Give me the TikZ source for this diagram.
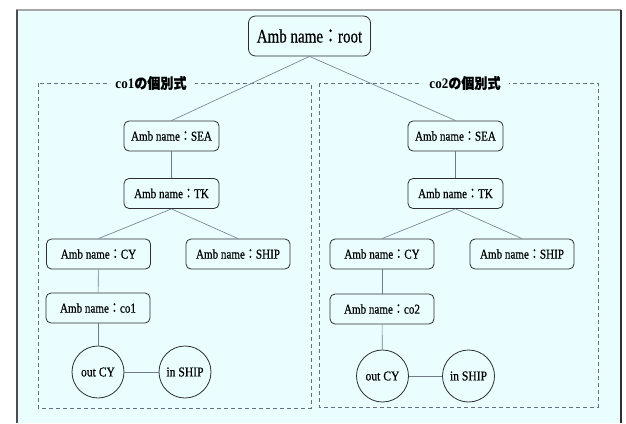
\documentclass[tikz,border=0pt]{standalone}
\usepackage{graphicx}
\usepackage{fontspec}
\setmainfont{Liberation Serif}
\newfontfamily\nf{Liberation Serif}[FakeBold=0.6]
\newfontfamily\cjk{Noto Sans CJK JP}
\newfontfamily\cjkb{Noto Sans CJK JP}[FakeBold=0.6]
\newcommand{\nt}[2][0.82]{\scalebox{#1}[1]{#2}}
\newcommand{\amb}[1]{Amb name{\cjkb ：}#1}
\definecolor{bgc}{RGB}{234,254,255}
\definecolor{edgec}{RGB}{112,122,140}
\definecolor{dashc}{RGB}{100,112,130}
\definecolor{nodec}{RGB}{45,45,50}
\begin{document}
\begin{tikzpicture}[x=1pt,y=-1pt,
  box/.style={draw=nodec, rounded corners=5pt, fill=bgc, line width=0.8pt, inner sep=0pt, minimum height=30, font=\nf\fontsize{13.5}{15}\selectfont},
  rootbox/.style={box, minimum width=122, minimum height=40, rounded corners=7pt, font=\nf\fontsize{19}{21}\selectfont},
  circ/.style={circle, draw=nodec, fill=bgc, line width=0.8pt, minimum size=52, inner sep=0pt, font=\nf\fontsize{13.5}{15}\selectfont},
  edge/.style={draw=edgec, line width=0.6pt},
  dashbox/.style={draw=dashc, line width=0.8pt, dash pattern=on 4pt off 3pt},
  lab/.style={fill=bgc, inner xsep=8pt, inner ysep=3pt, font=\fontsize{14.5}{16}\selectfont\bfseries}]
\useasboundingbox (0,0) rectangle (626,423);
\fill[white] (0,0) rectangle (626,423);
\fill[bgc] (17,10) rectangle (621,423);
\draw[gray!70, line width=1.2pt] (16,10) -- (621,10);
\draw[nodec!85, line width=1.8pt] (17,10) -- (17,423);
\draw[nodec, line width=1.2pt] (621,10) -- (621,423);
% dashed groups
\draw[dashbox] (38,83) rectangle (311,408);
\draw[dashbox] (319,83) rectangle (598,407);
\node[lab] (lab1) at (151,83) {\nt[0.9]{co1{\cjkb の個別式}}};
\node[lab] (lab2) at (465,83) {\nt[0.9]{co2{\cjkb の個別式}}};
% nodes
\node[rootbox] (root) at (309.5,36) {\nt[0.79]{\amb{root}}};
\node[box, minimum width=95] (sea1) at (171.5,136) {\nt{\amb{SEA}}};
\node[box, minimum width=95] (tk1) at (171.5,193.5) {\nt{\amb{TK}}};
\node[box, minimum width=104] (cy1) at (98.5,254) {\nt{\amb{CY}}};
\node[box, minimum width=104] (ship1) at (238,254) {\nt{\amb{SHIP}}};
\node[box, minimum width=104] (co1) at (98,308) {\nt{\amb{co1}}};
\node[circ] (out1) at (98,372) {\nt[0.86]{out CY}};
\node[circ] (in1) at (185,372) {\nt[0.86]{in SHIP}};
\node[box, minimum width=95] (sea2) at (455.5,136) {\nt{\amb{SEA}}};
\node[box, minimum width=95] (tk2) at (455.5,193.5) {\nt{\amb{TK}}};
\node[box, minimum width=104] (cy2) at (382,254) {\nt{\amb{CY}}};
\node[box, minimum width=104] (ship2) at (522,254) {\nt{\amb{SHIP}}};
\node[box, minimum width=104] (co2) at (382,309) {\nt{\amb{co2}}};
\node[circ] (out2) at (382.5,376) {\nt[0.86]{out CY}};
\node[circ] (in2) at (468.5,376) {\nt[0.86]{in SHIP}};
% edges
\draw[edge] (root.south) -- (sea1.north);
\draw[edge] (root.south) -- (sea2.north);
\draw[edge] (sea1) -- (tk1);
\draw[edge] (tk1.south) -- (cy1.north);
\draw[edge] (tk1.south) -- (ship1.north);
\draw[edge] (cy1) -- (co1);
\draw[edge] (co1) -- (out1);
\draw[edge] (out1) -- (in1);
\draw[edge] (sea2) -- (tk2);
\draw[edge] (tk2.south) -- (cy2.north);
\draw[edge] (tk2.south) -- (ship2.north);
\draw[edge] (cy2) -- (co2);
\draw[edge] (co2) -- (out2);
\draw[edge] (out2) -- (in2);
\end{tikzpicture}
\end{document}
